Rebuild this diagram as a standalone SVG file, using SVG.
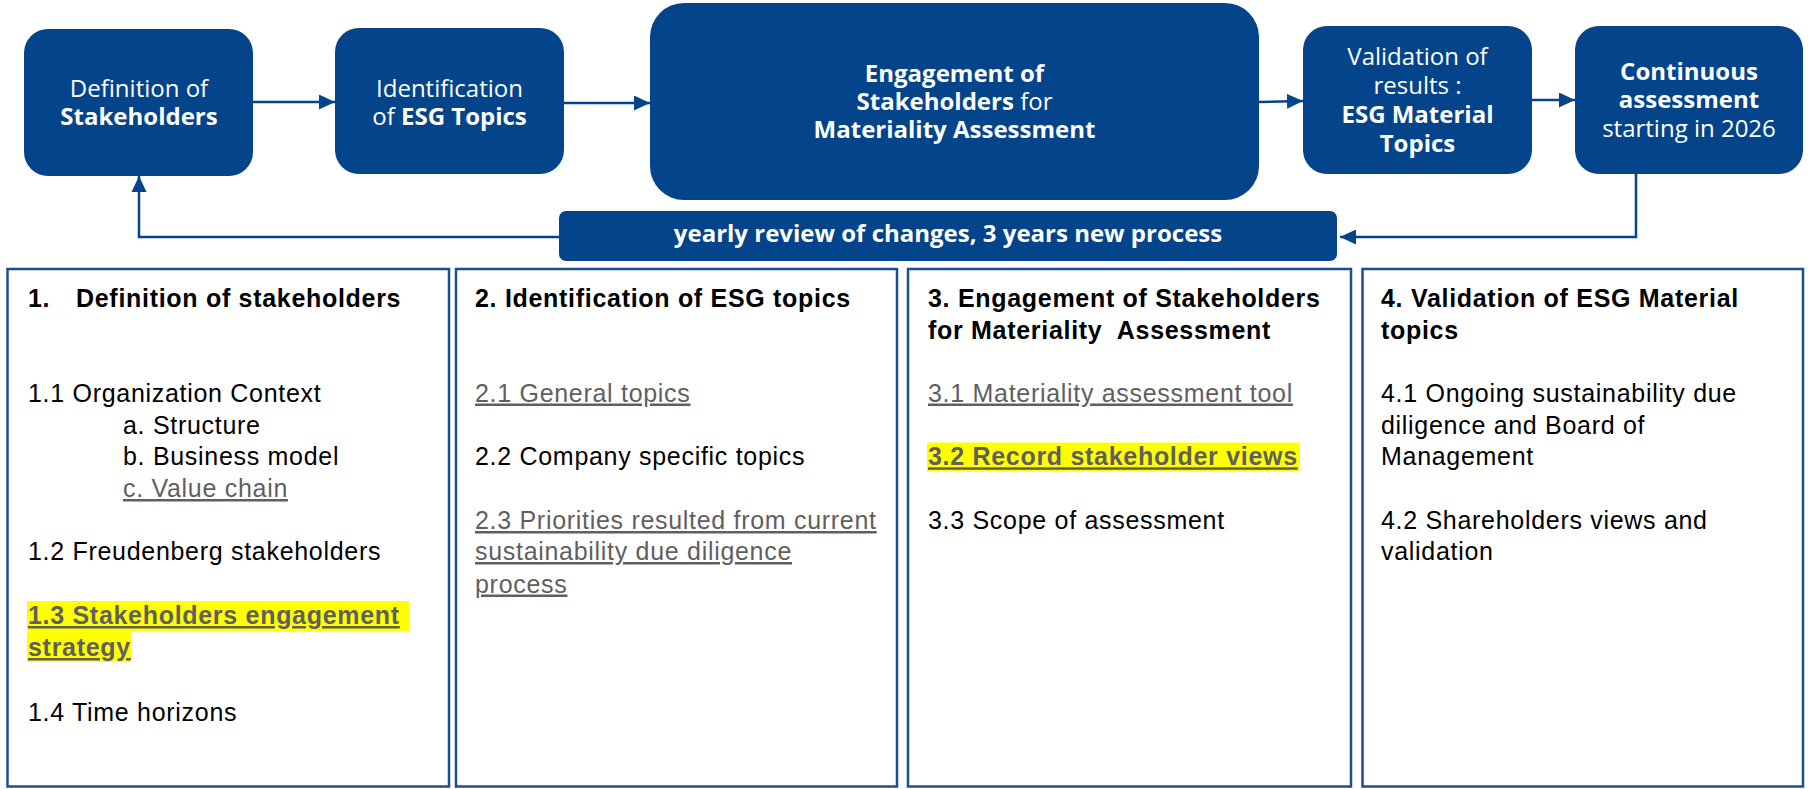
<svg xmlns="http://www.w3.org/2000/svg" width="1808" height="789" viewBox="0 0 1808 789">
<style>
.box{fill:#04448a}
.bt{font-family:"Open Sans","Noto Sans",sans-serif;font-size:24px;fill:#fff;text-anchor:middle}
.b{font-weight:bold}
.conn{fill:none;stroke:#04448a;stroke-width:2.5}
.panel{fill:#fff;stroke:#1b4f8f;stroke-width:2.5}
.pt{font-family:"Liberation Sans",Arial,sans-serif;font-size:25px;letter-spacing:0.7px;fill:#000}
.g{fill:#5f5f5f;text-decoration:underline}
.hl{fill:#ffff00}
</style>
<defs>
<marker id="ah" markerWidth="16" markerHeight="15" refX="16" refY="7.5" orient="auto" markerUnits="userSpaceOnUse">
<path d="M0,0 L16,7.5 L0,15 Z" fill="#04448a"/>
</marker>
</defs>
<rect width="1808" height="789" fill="#fff"/>

<g id="connectors">
<line class="conn" x1="253" y1="102" x2="335" y2="102" marker-end="url(#ah)"/>
<line class="conn" x1="564" y1="103" x2="650" y2="103" marker-end="url(#ah)"/>
<line class="conn" x1="1259" y1="102" x2="1303" y2="101" marker-end="url(#ah)"/>
<line class="conn" x1="1532" y1="100" x2="1575" y2="100" marker-end="url(#ah)"/>
<polyline class="conn" points="559,237 139,237 139,176" marker-end="url(#ah)"/>
<polyline class="conn" points="1636,174 1636,237 1340,237" marker-end="url(#ah)"/>
</g>

<g id="node-definition">
<rect class="box" x="24" y="29" width="229" height="147" rx="24"/>
<text class="bt" x="139" y="97">Definition of</text>
<text class="bt b" x="139" y="125">Stakeholders</text>
</g>

<g id="node-identification">
<rect class="box" x="335" y="28" width="229" height="146" rx="24"/>
<text class="bt" x="449.5" y="97">Identification</text>
<text class="bt" x="449.5" y="125">of <tspan class="b">ESG Topics</tspan></text>
</g>

<g id="node-engagement">
<rect class="box" x="650" y="3" width="609" height="197" rx="34"/>
<text class="bt b" x="954.5" y="82" font-size="23">Engagement of</text>
<text class="bt" x="954.5" y="110" font-size="23"><tspan class="b">Stakeholders</tspan> for</text>
<text class="bt b" x="954.5" y="138" font-size="23">Materiality Assessment</text>
</g>

<g id="node-validation">
<rect class="box" x="1303" y="26" width="229" height="148" rx="24"/>
<text class="bt" x="1417.5" y="65">Validation of</text>
<text class="bt" x="1417.5" y="94">results :</text>
<text class="bt b" x="1417.5" y="123">ESG Material</text>
<text class="bt b" x="1417.5" y="152">Topics</text>
</g>

<g id="node-continuous">
<rect class="box" x="1575" y="26" width="228" height="148" rx="24"/>
<text class="bt b" x="1689" y="80">Continuous</text>
<text class="bt b" x="1689" y="108">assessment</text>
<text class="bt" x="1689" y="137">starting in 2026</text>
</g>

<g id="node-review">
<rect class="box" x="559" y="211" width="778" height="50" rx="7"/>
<text class="bt b" x="948" y="242" font-size="20">yearly review of changes, 3 years new process</text>
</g>

<g id="panel-1">
<rect class="panel" x="7.5" y="269" width="441.5" height="517.5"/>
<text class="pt b" x="28" y="307">1.</text>
<text class="pt b" x="76" y="307">Definition of stakeholders</text>
<text class="pt" x="28" y="401.5">1.1 Organization Context</text>
<text class="pt" x="123" y="433.5">a. Structure</text>
<text class="pt" x="123" y="465.3">b. Business model</text>
<text class="pt g" x="123" y="497">c. Value chain</text>
<text class="pt" x="28" y="560">1.2 Freudenberg stakeholders</text>
<rect class="hl" x="27" y="601" width="382" height="30"/>
<rect class="hl" x="27" y="632" width="104" height="30"/>
<text class="pt b g" x="28" y="624">1.3 Stakeholders engagement </text>
<text class="pt b g" x="28" y="656">strategy</text>
<text class="pt" x="28" y="720.6">1.4 Time horizons</text>
</g>

<g id="panel-2">
<rect class="panel" x="456" y="269" width="441" height="517.5"/>
<text class="pt b" x="475" y="307">2. Identification of ESG topics</text>
<text class="pt g" x="475" y="401.5">2.1 General topics</text>
<text class="pt" x="475" y="465.3">2.2 Company specific topics</text>
<text class="pt g" x="475" y="529">2.3 Priorities resulted from current</text>
<text class="pt g" x="475" y="560">sustainability due diligence</text>
<text class="pt g" x="475" y="592.5">process</text>
</g>

<g id="panel-3">
<rect class="panel" x="908" y="269" width="443" height="517.5"/>
<text class="pt b" x="928" y="307">3. Engagement of Stakeholders</text>
<text class="pt b" x="928" y="339" xml:space="preserve">for Materiality  Assessment</text>
<text class="pt g" x="928" y="401.5">3.1 Materiality assessment tool</text>
<rect class="hl" x="927" y="442.5" width="373" height="29"/>
<text class="pt b g" x="928" y="465.3">3.2 Record stakeholder views</text>
<text class="pt" x="928" y="529">3.3 Scope of assessment</text>
</g>

<g id="panel-4">
<rect class="panel" x="1362.5" y="269" width="440.5" height="517.5"/>
<text class="pt b" x="1381" y="307">4. Validation of ESG Material</text>
<text class="pt b" x="1381" y="339">topics</text>
<text class="pt" x="1381" y="401.5">4.1 Ongoing sustainability due</text>
<text class="pt" x="1381" y="433.5">diligence and Board of</text>
<text class="pt" x="1381" y="465.3">Management</text>
<text class="pt" x="1381" y="529">4.2 Shareholders views and</text>
<text class="pt" x="1381" y="560">validation</text>
</g>
</svg>
